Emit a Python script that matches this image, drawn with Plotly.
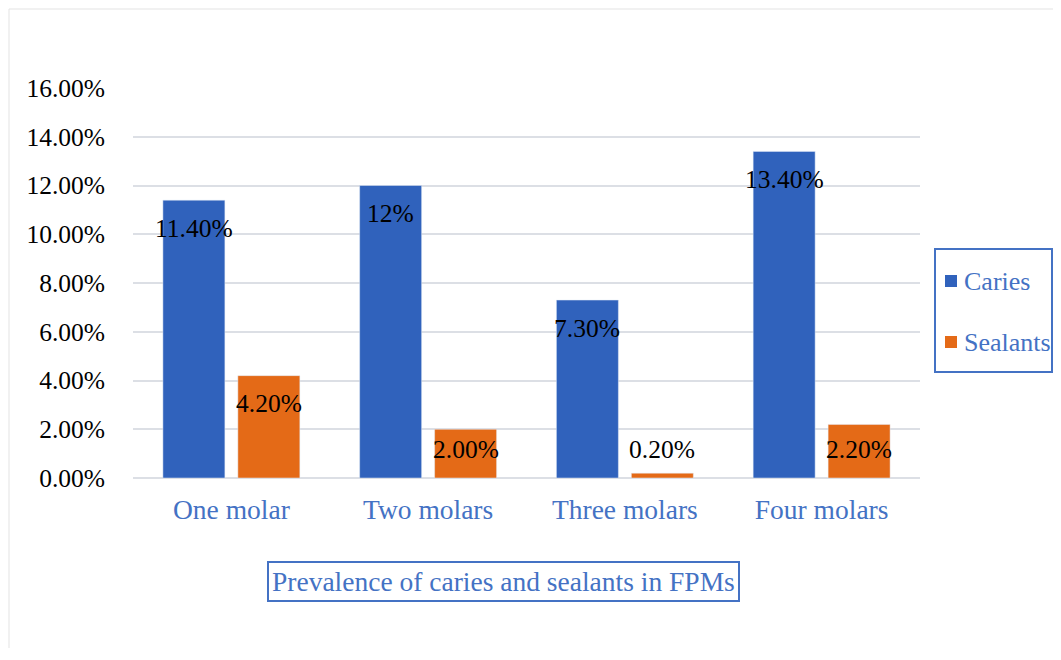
import plotly.graph_objects as go

categories = ["One molar", "Two molars", "Three molars", "Four molars"]
caries = [11.4, 12.0, 7.3, 13.4]
sealants = [4.2, 2.0, 0.2, 2.2]
caries_labels = ["11.40%", "12%", "7.30%", "13.40%"]
sealant_labels = ["4.20%", "2.00%", "0.20%", "2.20%"]
y_ticks = [0, 2, 4, 6, 8, 10, 12, 14, 16]
y_tick_labels = ["0.00%", "2.00%", "4.00%", "6.00%", "8.00%", "10.00%", "12.00%", "14.00%", "16.00%"]

BLUE = "#3062BC"
ORANGE = "#E46A17"
TXTBLUE = "#4472C4"
FONT = "Liberation Serif, Times New Roman, serif"

# figure geometry (page body has an 8px margin)
W, H = 1053, 640
L, T = 125, 80
PW, PH = 787, 390


def px(xf):
    return (xf - L) / PW


def py(yf):
    return (T + PH - yf) / PH


fig = go.Figure()
fig.add_trace(go.Bar(name="Caries", x=categories, y=caries, marker_color=BLUE,
                     hoverinfo="skip", showlegend=False))
fig.add_trace(go.Bar(name="Sealants", x=categories, y=sealants, marker_color=ORANGE,
                     hoverinfo="skip", showlegend=False))

# data labels
for i, (v, t) in enumerate(zip(caries, caries_labels)):
    fig.add_annotation(x=i, y=max(v, 2.3), xshift=-37.5, yshift=-28, text=t, showarrow=False,
                       font=dict(family=FONT, size=25.5, color="black"))
for i, (v, t) in enumerate(zip(sealants, sealant_labels)):
    fig.add_annotation(x=i, y=max(v, 2.3), xshift=37.5, yshift=-28, text=t, showarrow=False,
                       font=dict(family=FONT, size=25.5, color="black"))

# bottom title box
fig.add_annotation(xref="paper", yref="paper", x=px(495.5), y=py(573),
                   xanchor="center", yanchor="middle",
                   text="Prevalence of caries and sealants in FPMs",
                   showarrow=False, font=dict(family=FONT, size=27.5, color=TXTBLUE),
                   bordercolor=TXTBLUE, borderwidth=2, borderpad=3, bgcolor="white")

# legend (drawn)
fig.add_shape(type="rect", xref="paper", yref="paper",
              x0=px(927), x1=px(1044), y0=py(364), y1=py(241),
              line=dict(color=TXTBLUE, width=2), fillcolor="white")
for name, col, yc in [("Caries", BLUE, 273), ("Sealants", ORANGE, 334)]:
    fig.add_shape(type="rect", xref="paper", yref="paper",
                  x0=px(937), x1=px(949), y0=py(yc + 6), y1=py(yc - 6),
                  line=dict(width=0), fillcolor=col)
    fig.add_annotation(xref="paper", yref="paper", x=px(954), y=py(yc),
                       xanchor="left", yanchor="middle",
                       text=name, showarrow=False,
                       font=dict(family=FONT, size=26, color=TXTBLUE))

# outer chart border
fig.add_shape(type="rect", xref="paper", yref="paper",
              x0=px(1), x1=px(1200), y0=py(900), y1=py(1),
              line=dict(color="#E3E3E3", width=1), layer="below")

fig.update_layout(
    width=W, height=H,
    margin=dict(l=L, r=W - L - PW, t=T, b=H - T - PH, autoexpand=False),
    paper_bgcolor="white", plot_bgcolor="white",
    barmode="group", bargap=0.238, bargroupgap=0.173,
    font=dict(family=FONT, size=22, color="black"),
    showlegend=False,
    xaxis=dict(showgrid=False, showline=False, ticks="", ticklabelstandoff=12,
               tickfont=dict(family=FONT, size=27.5, color=TXTBLUE)),
    yaxis=dict(range=[0, 16], tickvals=y_ticks, ticktext=y_tick_labels,
               showgrid=True, gridcolor="#DCDFE5", gridwidth=1.5, zeroline=True,
               zerolinecolor="#DCDFE5", zerolinewidth=1.5, showline=False,
               ticklabelstandoff=27,
               tickfont=dict(family=FONT, size=25.5, color="black")),
)

fig.write_html("out.html")
